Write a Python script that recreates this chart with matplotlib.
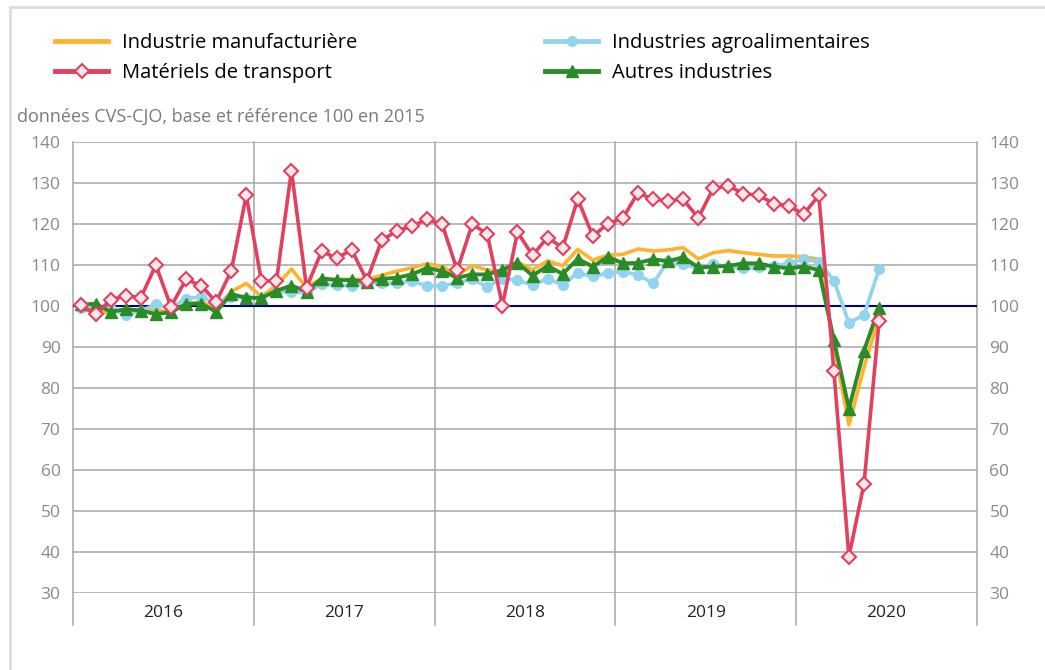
import matplotlib
matplotlib.use("Agg")
import matplotlib.pyplot as plt
from matplotlib.lines import Line2D
import numpy as np

plt.rcParams['font.family'] = ['Open Sans', 'DejaVu Sans']

years = ["2016", "2017", "2018", "2019", "2020"]

manufacturiere = [99.5, 98.3, 98.5, 99.2, 99.0, 99.0, 98.5, 100.5, 101.0, 99.5, 103.5, 105.5,
                  102.3, 105.0, 109.0, 104.5, 106.7, 106.5, 106.5, 106.5, 107.5, 108.5, 109.3, 110.3,
                  109.6, 107.6, 109.8, 108.8, 108.0, 110.8, 108.8, 111.0, 109.8, 113.8, 111.2, 112.4,
                  112.6, 113.9, 113.4, 113.7, 114.2, 111.5, 113.0, 113.5, 113.0, 112.6, 112.2, 112.2,
                  112.0, 111.4, 90.5, 71.0, 85.0, 97.4]

agroalimentaires = [99.6, 99.8, 99.3, 97.8, 98.8, 100.4, 99.5, 101.8, 102.2, 100.8, 102.2, 102.0,
                    102.0, 103.5, 103.5, 103.1, 105.4, 105.1, 104.9, 105.6, 105.6, 105.6, 106.1, 104.9,
                    104.9, 105.7, 106.5, 104.7, 106.7, 106.3, 105.1, 106.7, 105.1, 108.1, 107.2, 108.0,
                    108.4, 107.6, 105.5, 111.0, 110.2, 109.2, 110.2, 109.6, 109.2, 109.4, 109.8, 110.4,
                    111.4, 110.8, 106.2, 95.9, 97.8, 109.0]

transport = [100.2, 98.0, 101.5, 102.5, 102.0, 110.0, 99.8, 106.5, 105.0, 101.0, 108.5, 127.0,
             106.2, 106.0, 133.0, 104.5, 113.3, 111.7, 113.7, 106.2, 116.1, 118.3, 119.5, 121.1,
             120.0, 108.7, 120.0, 117.5, 100.1, 118.0, 112.4, 116.7, 114.2, 126.1, 117.1, 120.0,
             121.5, 127.6, 126.0, 125.7, 126.0, 121.5, 128.7, 129.3, 127.4, 127.0, 125.0, 124.4,
             122.4, 127.0, 84.2, 38.9, 56.6, 96.3]

autres = [100.4, 100.5, 98.6, 99.2, 98.9, 98.0, 98.5, 100.5, 100.6, 98.6, 102.9, 102.0,
          102.0, 103.7, 105.0, 103.5, 106.7, 106.3, 106.3, 105.9, 106.6, 106.9, 107.7, 109.3,
          108.5, 106.9, 107.7, 107.7, 108.8, 110.6, 107.4, 109.8, 107.8, 111.5, 109.6, 112.0,
          110.4, 110.5, 111.4, 110.9, 111.9, 109.4, 109.6, 109.8, 110.4, 110.4, 109.6, 109.2,
          109.6, 108.8, 91.7, 75.0, 89.1, 99.6]

labels = ["Industrie manufacturière", "Industries agroalimentaires",
          "Matériels de transport", "Autres industries"]

C_ORANGE = "#ffb32c"
C_BLUE = "#92d3ef"
C_RED = "#e2405f"
C_GREEN = "#2a8c27"
GRID = "#a6a6a6"
TICK = "#8a8a8a"

W, H = 1045, 670
fig = plt.figure(figsize=(W / 100, H / 100), dpi=100)
ax = fig.add_axes([73 / W, 1 - 593 / H, (977 - 73) / W, (593 - 142) / H])

x = np.arange(len(transport)) + 0.5

ax.set_xlim(0, 60)
ax.set_ylim(30, 140)
ax.set_yticks(np.arange(30, 141, 10))
ax.set_xticks([])
ax.grid(axis='y', color=GRID, lw=1.1, zorder=0)
for s in ax.spines.values():
    s.set_visible(False)

ext = (625 - 593) / (593 - 142)
for b in range(0, 61, 12):
    ax.axvline(b, ymin=-ext, ymax=1, color=GRID, lw=1.1, clip_on=False, zorder=1)
for i, yr in enumerate(years):
    ax.text(12 * i + 6, 30 - 4.8, yr, ha='center', va='center', fontsize=12.5, color='#222222')

ax.tick_params(axis='y', length=0, pad=9, labelsize=12.5, labelcolor=TICK,
               labelleft=True, labelright=True)

ax.axhline(100, color="#000080", lw=1.5, zorder=2)

ax.plot(x, manufacturiere, color=C_ORANGE, lw=2.6, zorder=3)
ax.plot(x, agroalimentaires, color=C_BLUE, lw=2.6, marker='o', ms=7,
        mfc=C_BLUE, mec=C_BLUE, zorder=4)
ax.plot(x, autres, color=C_GREEN, lw=2.8, marker='^', ms=8.5,
        mfc=C_GREEN, mec=C_GREEN, zorder=5)
ax.plot(x, transport, color=C_RED, lw=2.6, marker='D', ms=7,
        mfc="#fbe6ea", mec=C_RED, mew=1.5, zorder=6)

fig.text(17 / W, 1 - 117 / H, "données CVS-CJO, base et référence 100 en 2015",
         fontsize=13, color="#7a7a7a", ha='left', va='center')

h_orange = Line2D([], [], color=C_ORANGE, lw=3.5)
h_blue = Line2D([], [], color=C_BLUE, lw=3.5, marker='o', ms=7, mfc=C_BLUE, mec=C_BLUE)
h_red = Line2D([], [], color=C_RED, lw=3.5, marker='D', ms=7, mfc="#fbe6ea", mec=C_RED, mew=1.5)
h_green = Line2D([], [], color=C_GREEN, lw=3.5, marker='^', ms=8.5, mfc=C_GREEN, mec=C_GREEN)

leg_kw = dict(frameon=False, fontsize=14.5, handlelength=2.65, handletextpad=0.7,
              labelspacing=0.5, borderpad=0, borderaxespad=0, loc='upper left')
l1 = fig.legend([h_orange, h_red], [labels[0], labels[2]],
                bbox_to_anchor=(55 / W, 1 - 33 / H), **leg_kw)
l2 = fig.legend([h_blue, h_green], [labels[1], labels[3]],
                bbox_to_anchor=(545 / W, 1 - 33 / H), **leg_kw)

fig.add_artist(Line2D([10 / W, 10 / W], [0, 1 - 7 / H], color="#dddddd", lw=2,
                      transform=fig.transFigure))
fig.add_artist(Line2D([10 / W, 1], [1 - 7 / H, 1 - 7 / H], color="#dddddd", lw=2,
                      transform=fig.transFigure))

fig.savefig("out.png", dpi=100)
